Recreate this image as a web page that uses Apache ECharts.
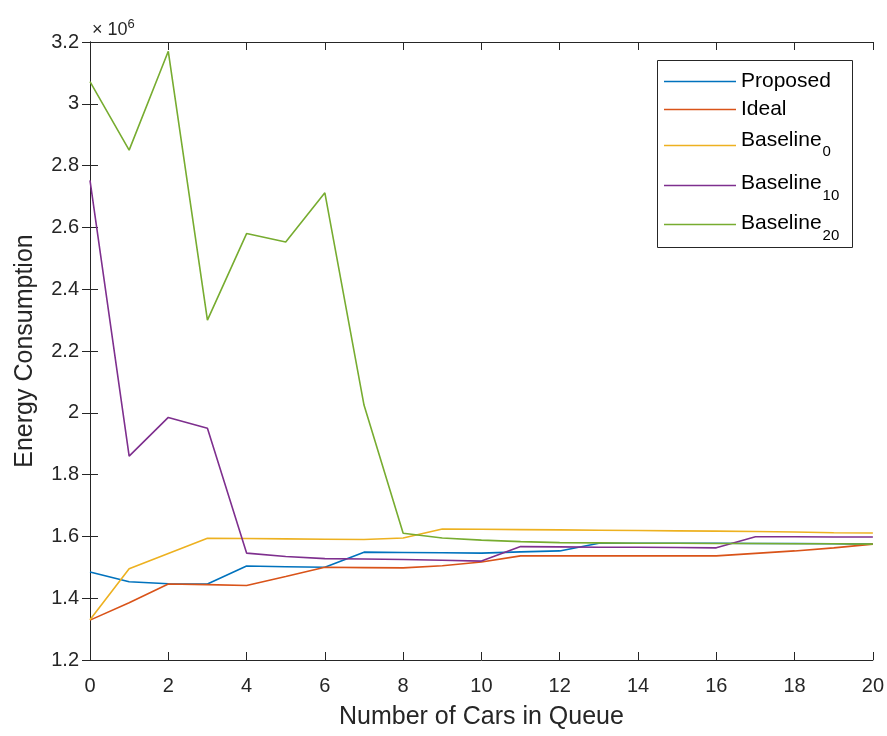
<!DOCTYPE html>
<html>
<head>
<meta charset="utf-8">
<script src="https://cdn.jsdelivr.net/npm/echarts@6/dist/echarts.min.js"></script>
<style>html,body{margin:0;padding:0;background:#fff}#c{width:887px;height:736px}</style>
</head>
<body>
<div id="c"></div>
<script>
const xValues = [0,1,2,3,4,5,6,7,8,9,10,11,12,13,14,15,16,17,18,19,20];
const proposed = [1.485,1.453,1.447,1.446,1.504,1.502,1.500,1.549,1.548,1.547,1.546,1.550,1.553,1.578,1.578,1.578,1.578,1.577,1.577,1.576,1.575];
const ideal = [1.329,1.385,1.446,1.444,1.441,1.470,1.500,1.499,1.498,1.505,1.517,1.537,1.537,1.537,1.537,1.537,1.537,1.545,1.553,1.563,1.575];
const baseline0 = [1.330,1.495,1.545,1.594,1.593,1.592,1.591,1.590,1.595,1.624,1.623,1.622,1.621,1.620,1.619,1.618,1.617,1.616,1.614,1.612,1.611];
const baseline10 = [2.752,1.860,1.985,1.950,1.546,1.535,1.528,1.527,1.525,1.523,1.520,1.567,1.566,1.565,1.565,1.564,1.563,1.599,1.599,1.598,1.598];
const baseline20 = [3.072,2.850,3.170,2.300,2.580,2.553,2.712,2.025,1.610,1.595,1.588,1.583,1.580,1.579,1.578,1.578,1.577,1.577,1.576,1.576,1.575];
const yTicks = [1.2,1.4,1.6,1.8,2,2.2,2.4,2.6,2.8,3,3.2];
const xTicks = [0,2,4,6,8,10,12,14,16,18,20];
const seriesNames = ['Proposed','Ideal','Baseline_0','Baseline_10','Baseline_20'];
const seriesData = [proposed, ideal, baseline0, baseline10, baseline20];
const colors = ['#0072BD','#D95319','#EDB120','#7E2F8E','#77AC30'];

const FONT = 'Liberation Sans, Arial, Helvetica, sans-serif';
const chart = echarts.init(document.getElementById('c'), null, {renderer:'canvas'});

// per-entry legend layout: [top, main padding-bottom, sub padding-top]
const legendLayout = [[71,0,0],[99,0,0],[130,10,12],[173,4,20],[213,2,22]];
const legends = seriesNames.map((n,i)=>{
  const L = legendLayout[i];
  return {
    show:true, data:[n], left:664, top:L[0], itemWidth:72, itemHeight:1.5, icon:'rect',
    orient:'vertical', padding:0, selectedMode:false,
    formatter: nm => { const p = nm.split('_'); return p.length>1 ? '{m|'+p[0]+'}{sub|'+p[1]+'}' : nm; },
    textStyle:{fontFamily:FONT, fontSize:21, color:'#000',
      rich:{
        m:{fontFamily:FONT, fontSize:21, color:'#000', padding:[0,0,L[1],0]},
        sub:{fontFamily:FONT, fontSize:15, color:'#000', padding:[L[2],0,0,1]}
      }}
  };
});

const axisStyle = {lineStyle:{color:'#262626', width:1}};
const tickStyle = {inside:true, length:8, lineStyle:{color:'#262626'}};
const option = {
  animation:false,
  color: colors,
  title:{text:'{a|\u00d7 10}{b|6}', left:92, top:18, padding:0,
    textStyle:{rich:{a:{fontFamily:FONT,fontSize:18,color:'#262626',fontWeight:'normal'},
      b:{fontFamily:FONT,fontSize:13,color:'#262626',fontWeight:'normal',padding:[0,0,12,0]}}}},
  grid:{left:90, top:42, right:14, bottom:76, containLabel:false},
  legend: legends,
  xAxis:[{
    type:'value', min:0, max:20, interval:2,
    name:'Number of Cars in Queue', nameLocation:'middle', nameGap:45,
    nameTextStyle:{fontFamily:FONT, fontSize:25, color:'#262626'},
    axisLine:axisStyle, axisTick:tickStyle,
    axisLabel:{fontFamily:FONT, fontSize:20, color:'#262626', margin:16,
      formatter:v=> xTicks.includes(v) ? String(v) : ''},
    splitLine:{show:false}
  },{
    type:'value', min:0, max:20, interval:2, position:'top',
    axisLine:axisStyle, axisTick:tickStyle,
    axisLabel:{show:false}, splitLine:{show:false}
  }],
  yAxis:[{
    type:'value', min:1.2, max:3.2, interval:0.2,
    name:'Energy Consumption', nameLocation:'middle', nameGap:52,
    nameTextStyle:{fontFamily:FONT, fontSize:25, color:'#262626'},
    axisLine:axisStyle, axisTick:tickStyle,
    axisLabel:{fontFamily:FONT, fontSize:20, color:'#262626', margin:11,
      formatter:v=>{ const t = yTicks.find(k=>Math.abs(k-v)<1e-9); return t===undefined?'':String(t);} },
    splitLine:{show:false}
  },{
    type:'value', min:1.2, max:3.2, interval:0.2, position:'right',
    axisLine:axisStyle, axisTick:tickStyle,
    axisLabel:{show:false}, splitLine:{show:false}
  }],
  graphic:[{type:'rect', shape:{x:657.5, y:60.5, width:195, height:187},
    style:{fill:'rgba(255,255,255,0)', stroke:'#262626', lineWidth:1}, z:1}],
  series: seriesNames.map((n,i)=>({
    name:n, type:'line', xAxisIndex:0, yAxisIndex:0,
    data: xValues.map((x,j)=>[x, seriesData[i][j]]),
    symbol:'none', showSymbol:false,
    lineStyle:{width:1.6, color:colors[i]}, itemStyle:{color:colors[i]},
    emphasis:{disabled:true}
  }))
};
chart.setOption(option);
</script>
</body>
</html>
